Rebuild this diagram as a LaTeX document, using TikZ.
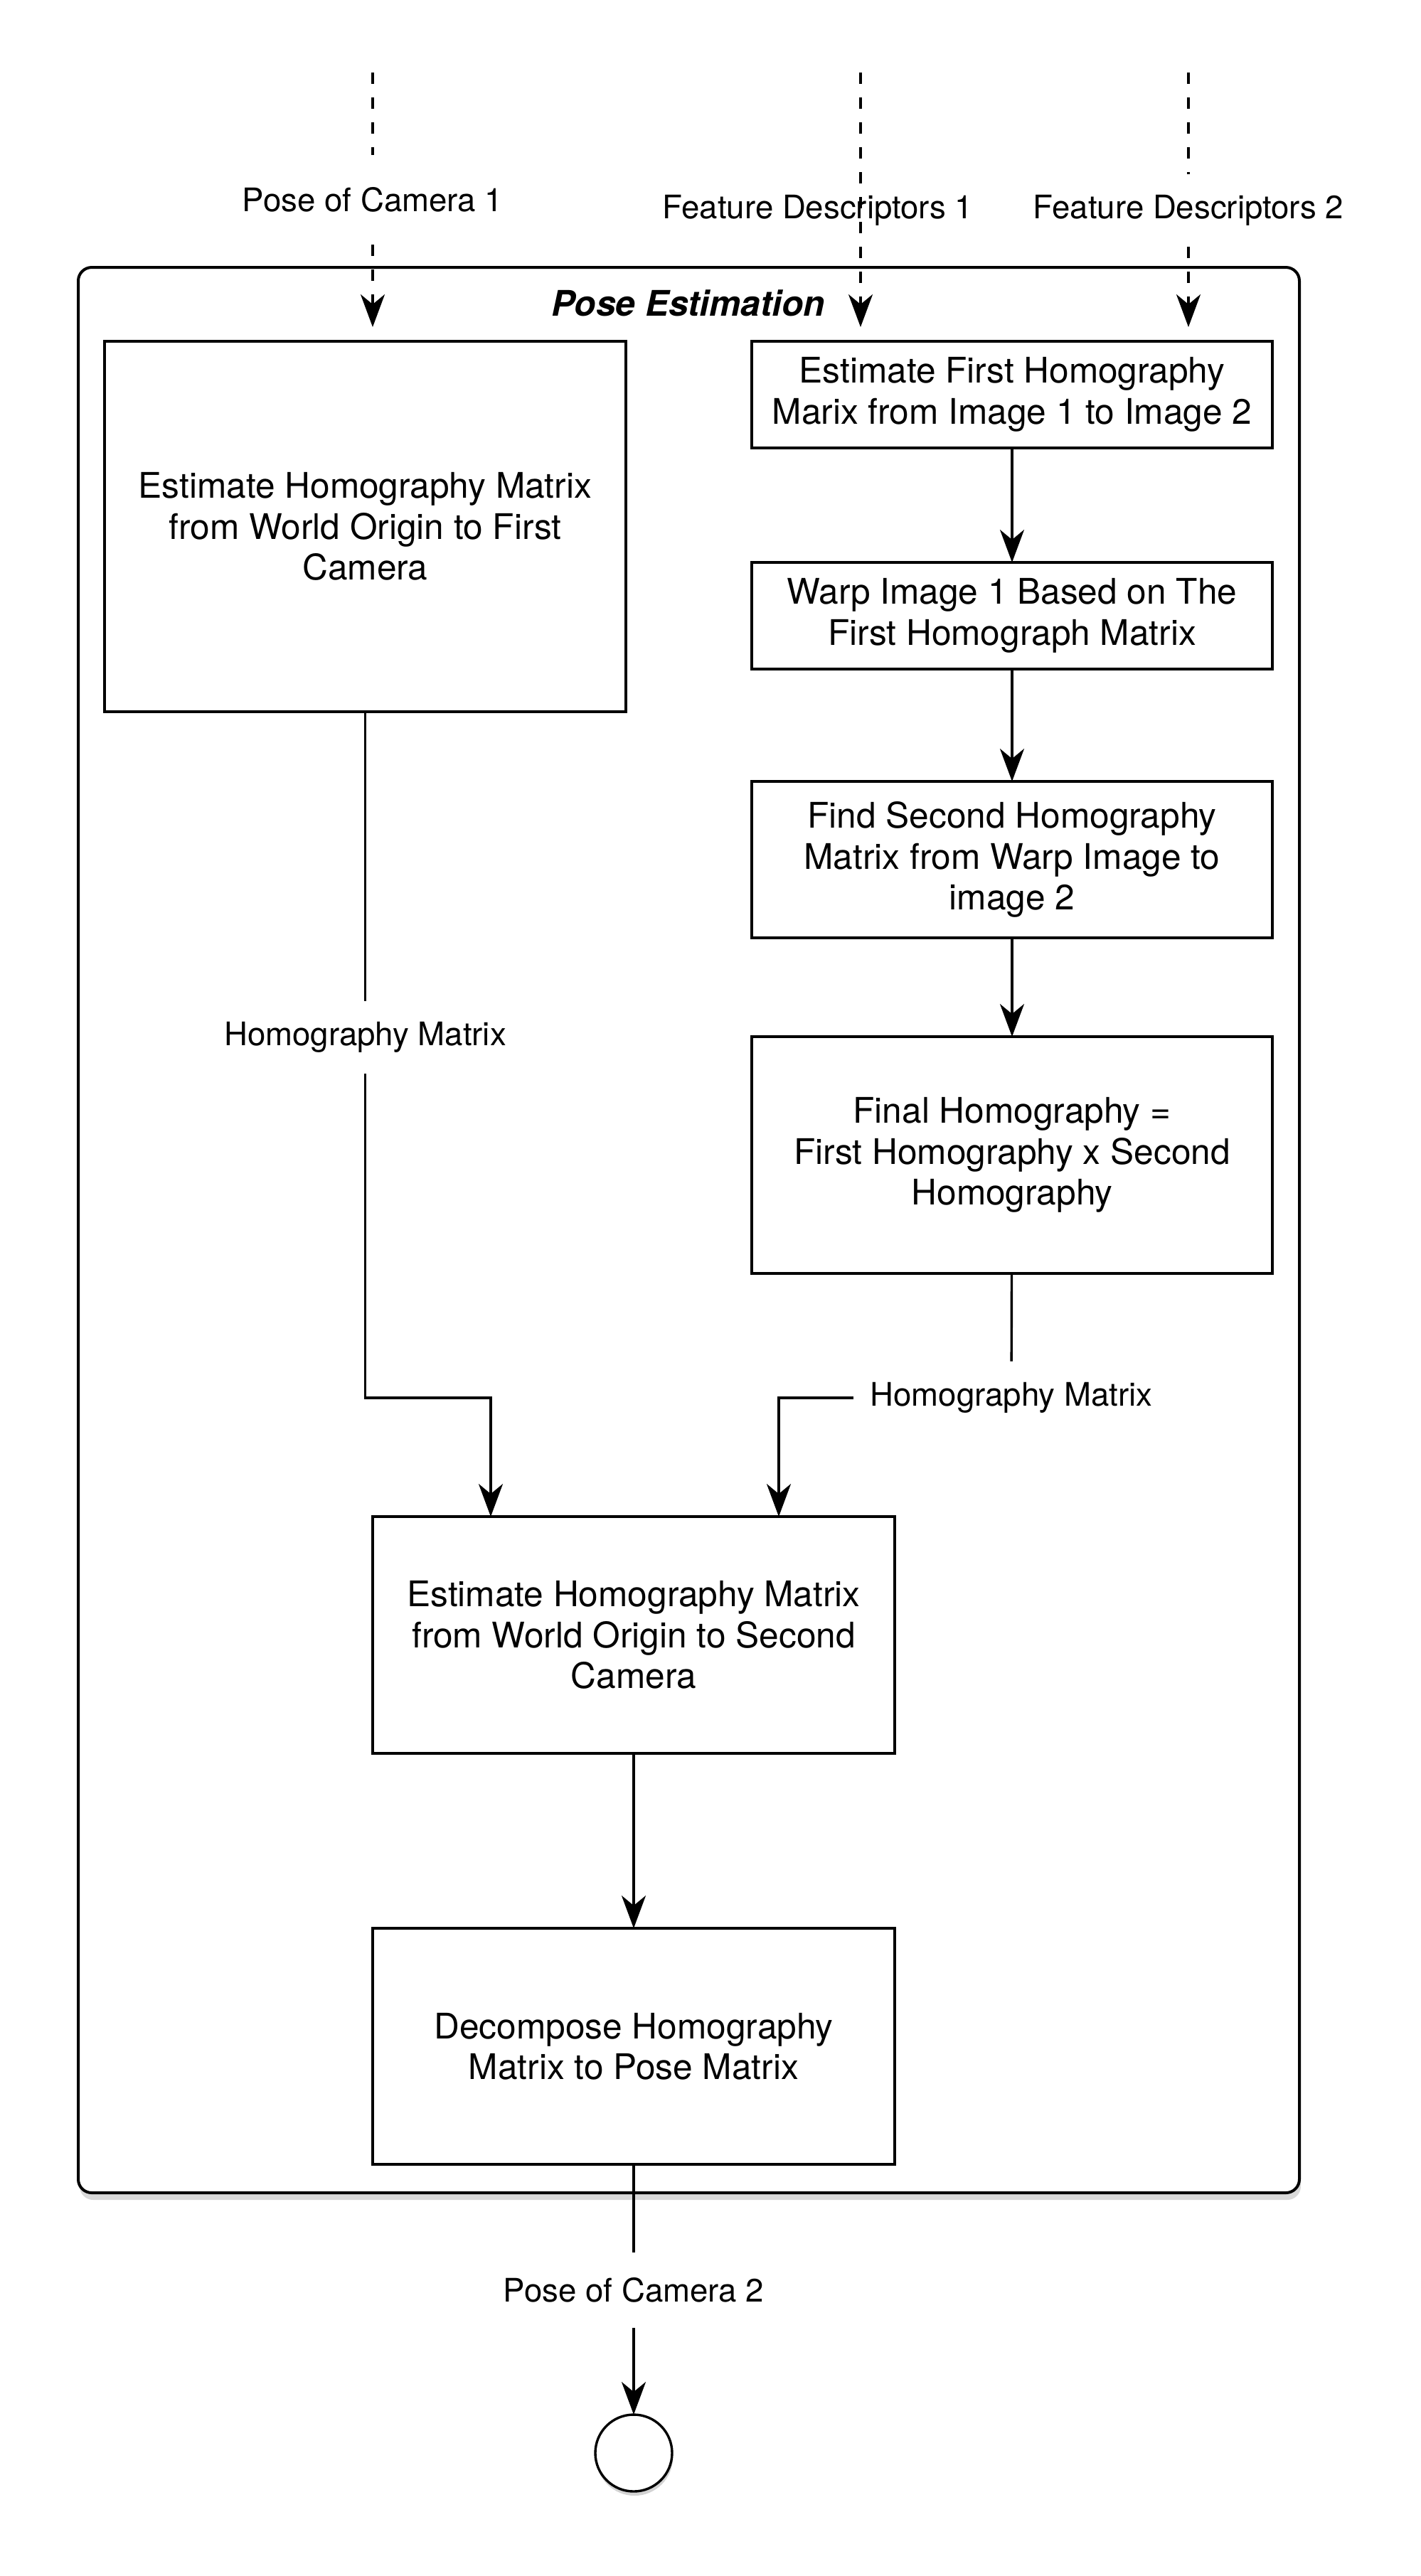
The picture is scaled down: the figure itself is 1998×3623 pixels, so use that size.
\documentclass[tikz,border=0pt]{standalone}
\usepackage{fontspec}
\setmainfont{TeX Gyre Heros}
\usetikzlibrary{arrows.meta,positioning,shadows}

\begin{document}
\begin{tikzpicture}[x=0.25pt,y=-0.25pt,>={Stealth[length=11.5pt,width=8.5pt,inset=3.5pt]},
                    line width=0.85pt,node distance=39.5pt]
  \tikzstyle{block}=[rectangle,draw=black,fill=white,align=center,inner sep=0pt,outer sep=0pt,
                     minimum width=183.25pt,font=\fontsize{12.4}{14.35}\selectfont]
  \tikzstyle{flow}=[inner xsep=5.5pt,inner ysep=7pt,font=\fontsize{11.4}{13.5}\selectfont]
  \tikzstyle{feed}=[dash pattern=on 4pt off 4.75pt]

  \useasboundingbox (0,0) rectangle (1998,3623);

  \node[rectangle,draw,fill=white,rounded corners=4.75pt,line width=1pt,
        minimum width=429.25pt,minimum height=677pt,
        drop shadow={shadow xshift=0.5pt,shadow yshift=-2.5pt,opacity=0.3,fill=gray}]
        (group) at (968.5,1730) {};
  \node[font=\fontsize{12.4}{14.35}\selectfont\bfseries\itshape] (title) at (968,426) {Pose Estimation};

  \node[block,minimum height=130.25pt] (est1) at (513.5,740.5)
        {Estimate Homography Matrix\\from World Origin to First\\Camera};
  \node[block,minimum width=183pt,minimum height=37.5pt] (firsth) at (1423,555)
        {Estimate First Homography\\Marix from Image 1 to Image 2};
  \node[block,minimum width=183pt,minimum height=37.5pt] (warp) [below=40.25pt of firsth]
        {Warp Image 1 Based on The\\First Homograph Matrix};
  \node[block,minimum width=183pt,minimum height=55pt] (secondh) [below=of warp]
        {Find Second Homography\\Matrix from Warp Image to\\image 2};
  \node[block,minimum width=183pt,minimum height=83.25pt] (finalh) [below=34.75pt of secondh]
        {Final Homography =\\First Homography x Second\\Homography};
  \node[block,minimum width=183.5pt,minimum height=83.25pt] (est2) at (891,2299.5)
        {Estimate Homography Matrix\\from World Origin to Second\\Camera};
  \node[block,minimum width=183.5pt,minimum height=83pt] (decomp) [below=61.5pt of est2]
        {Decompose Homography\\Matrix to Pose Matrix};
  \node[circle,draw,fill=white,minimum size=27pt,inner sep=0pt,outer sep=0pt,
        drop shadow={shadow xshift=0.3pt,shadow yshift=-1.5pt,opacity=0.35,fill=gray}]
        (done) at (891,3450) {};

  \node[flow,inner ysep=11pt] (pc1) at (524,281) {Pose of Camera 1};
  \node[flow] (fd1) at (1150,296) {Feature Descriptors 1};
  \node[flow] (fd2) at (1671,296) {Feature Descriptors 2};
  \node[flow] (hm1) at (513.5,1459) {Homography Matrix};
  \node[flow] (hm2) at (1422,1966) {Homography Matrix};
  \node[flow,inner ysep=8.5pt] (pc2) at (891,3221) {Pose of Camera 2};

  \coordinate (pc1in) at (524,102);
  \coordinate (fd1in) at (1210,102);
  \coordinate (fd2in) at (1671,102);

  \path[feed] (pc1in) edge (pc1)
              (pc1)   edge[->,shorten >=5pt] (pc1.south |- est1.north)
              (fd1in) edge[->,shorten >=5pt] (fd1in |- firsth.north)
              (fd2in) edge (fd2)
              (fd2)   edge[->,shorten >=5pt] (fd2.south |- firsth.north);

  \path (firsth)  edge[->] (warp)
        (warp)    edge[->] (secondh)
        (secondh) edge[->] (finalh)
        (finalh)  edge     (hm2)
        (est1)    edge     (hm1)
        (est2)    edge[->] (decomp)
        (decomp)  edge     (pc2)
        (pc2)     edge[->] (done);

  \draw[->] (hm1) |- ([xshift=-50.25pt]est2.north |- hm2) -- ([xshift=-50.25pt]est2.north);
  \draw[->] (hm2) -| ([xshift=51pt]est2.north);
\end{tikzpicture}
\end{document}
